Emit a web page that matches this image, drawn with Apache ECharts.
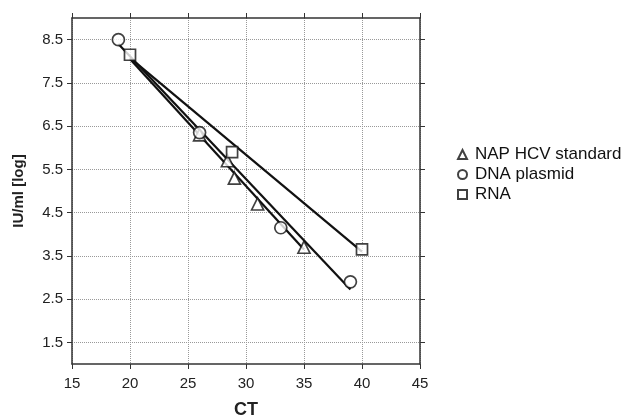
<!DOCTYPE html>
<html>
<head>
<meta charset="UTF-8">
<script src="https://cdn.jsdelivr.net/npm/echarts@6/dist/echarts.min.js"></script>
<style>
  html, body { margin: 0; padding: 0; background: #fff; }
  #chart { width: 633px; height: 417px; }
</style>
</head>
<body>
<div id="chart"></div>
<script>
// measured points (CT, log IU/ml)
const napPoints = [[26, 6.3], [28.4, 5.7], [29, 5.3], [31, 4.7], [35, 3.7]];
const dnaPoints = [[19, 8.5], [26, 6.35], [33, 4.15], [39, 2.9]];
const rnaPoints = [[20, 8.15], [28.8, 5.9], [40, 3.65]];

// fitted lines, end points
const napFit = [[20, 8.05], [35, 3.65]];
const dnaFit = [[19, 8.4], [39, 2.72]];
const rnaFit = [[20, 8.08], [40, 3.6]];

const yTicks = [1.5, 2.5, 3.5, 4.5, 5.5, 6.5, 7.5, 8.5];
const names = ['NAP HCV standard', 'DNA plasmid', 'RNA'];

const font = 'Liberation Sans, Arial, sans-serif';
const grid = { left: 72, right: 213, top: 18, bottom: 53, outerBoundsMode: 'none', containLabel: false };
const dotted = { color: '#999', type: [1, 1], width: 1 };
const axisLine = { show: true, onZero: false, lineStyle: { color: '#333', width: 1.5 } };

function fitLine(data) {
  return {
    type: 'line', data: data, symbol: 'none', silent: true,
    lineStyle: { color: '#111', width: 2.2 }, z: 2
  };
}
function points(name, symbol, size, data) {
  return {
    type: 'scatter', name: name, data: data, symbol: symbol, symbolSize: size,
    itemStyle: { color: '#fff', borderColor: '#111', borderWidth: 1.7 }, z: 3
  };
}

const chart = echarts.init(document.getElementById('chart'));
chart.setOption({
  animation: false,
  backgroundColor: '#fff',
  grid: grid,
  legend: {
    orient: 'vertical', left: 452, top: 141, itemGap: 3,
    itemWidth: 9, itemHeight: 9,
    textStyle: { fontFamily: font, fontSize: 17, lineHeight: 17, color: '#111', padding: [0, 0, 0, 3] },
    data: names.map((n, i) => ({ name: n, icon: ['triangle', 'circle', 'rect'][i] }))
  },
  xAxis: [{
    type: 'value', min: 15, max: 45, interval: 5, position: 'bottom',
    name: 'CT', nameLocation: 'middle', nameGap: 37,
    nameTextStyle: { fontFamily: font, fontSize: 18, fontWeight: 'bold', color: '#222' },
    axisLine: axisLine,
    axisTick: { show: true, inside: false, length: 5, lineStyle: { color: '#333' } },
    axisLabel: { fontFamily: font, fontSize: 15, color: '#222', margin: 12 },
    splitLine: { show: true, lineStyle: dotted }
  }, {
    type: 'value', min: 15, max: 45, interval: 5, position: 'top',
    axisLine: axisLine,
    axisTick: { show: true, inside: false, length: 5, lineStyle: { color: '#333' } },
    axisLabel: { show: false },
    splitLine: { show: false }
  }],
  yAxis: [{
    type: 'value', min: 1, max: 9, position: 'left',
    name: 'IU/ml [log]', nameLocation: 'middle', nameGap: 46, nameRotate: 90,
    nameTextStyle: { fontFamily: font, fontSize: 15, fontWeight: 'bold', color: '#222' },
    axisLine: axisLine,
    axisTick: { show: true, inside: false, length: 5, customValues: yTicks, lineStyle: { color: '#333' } },
    axisLabel: { fontFamily: font, fontSize: 15, color: '#222', margin: 9, customValues: yTicks,
                 formatter: v => v.toFixed(1) },
    splitLine: { show: true, lineStyle: dotted }
  }, {
    type: 'value', min: 1, max: 9, position: 'right',
    axisLine: axisLine,
    axisTick: { show: true, inside: false, length: 5, customValues: yTicks, lineStyle: { color: '#333' } },
    axisLabel: { show: false, customValues: yTicks },
    splitLine: { show: false }
  }],
  series: [
    fitLine(napFit),
    fitLine(dnaFit),
    fitLine(rnaFit),
    points(names[0], 'triangle', 12, napPoints),
    points(names[1], 'circle', 12, dnaPoints),
    points(names[2], 'rect', 11, rnaPoints)
  ]
});
</script>
</body>
</html>
